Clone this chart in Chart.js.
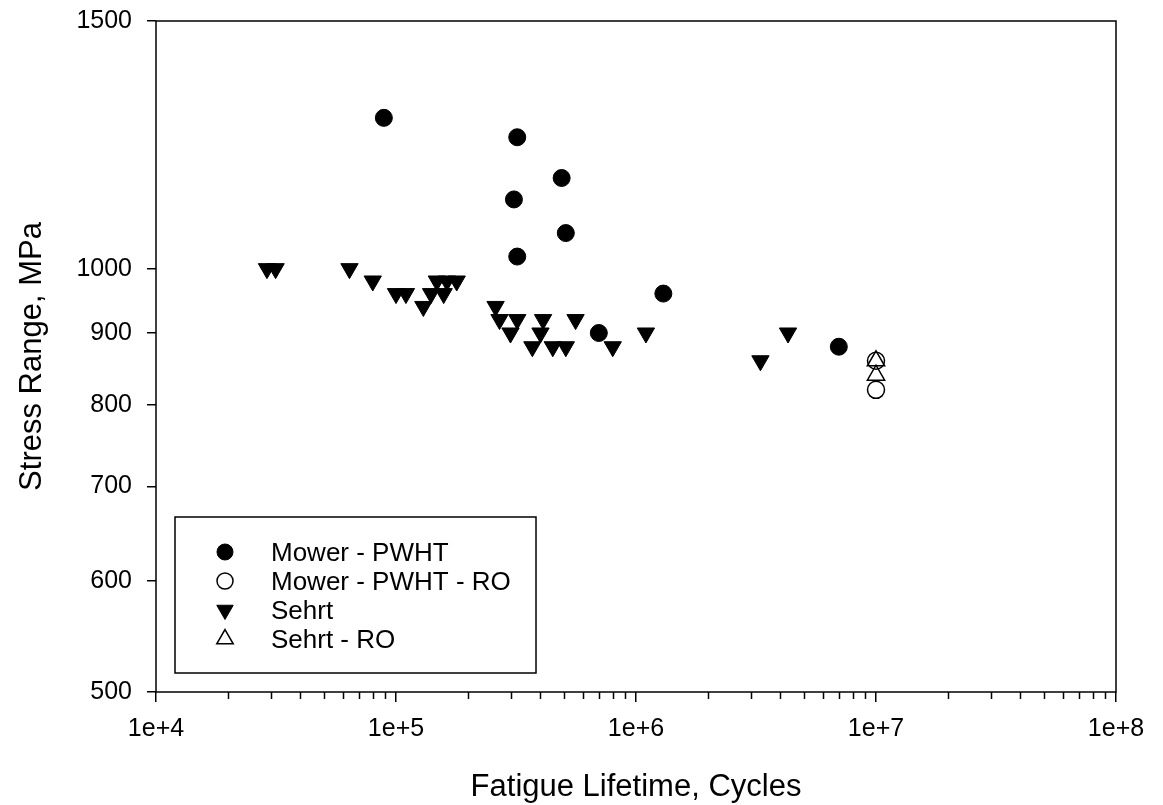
<!DOCTYPE html>
<html>
<head>
<meta charset="utf-8">
<script src="https://cdn.jsdelivr.net/npm/chart.js@4.4.0/dist/chart.umd.min.js"></script>
<style>
html, body { margin: 0; padding: 0; background: #fff; }
</style>
</head>
<body>
<canvas id="fatigue-plot" width="1163" height="805"></canvas>
<script>
// cycles / stress range (MPa)
var mowerX = [89000, 320000, 490000, 310000, 510000, 320000, 1300000, 700000, 7000000];
var mowerY = [1280, 1240, 1160, 1120, 1060, 1020, 960, 900, 880];

var mowerRoX = [10000000, 10000000];
var mowerRoY = [860, 820];

var sehrtX = [29000, 31500, 64000, 80000, 100000, 110000, 130000, 140000, 148000, 158000, 163000, 179000,
  260000, 270000, 300000, 320000, 370000, 400000, 410000, 450000, 510000, 560000, 800000, 1100000, 3300000, 4300000];
var sehrtY = [1000, 1000, 1000, 980, 960, 960, 940, 960, 980, 960, 980, 980,
  940, 920, 900, 920, 880, 900, 920, 880, 880, 920, 880, 900, 860, 900];

var sehrtRoX = [10000000, 10000000];
var sehrtRoY = [860, 840];

var xTicks = [1e4, 1e5, 1e6, 1e7, 1e8];
var xTickLabels = ['1e+4', '1e+5', '1e+6', '1e+7', '1e+8'];
var yTicks = [500, 600, 700, 800, 900, 1000, 1500];

var xMinorTicks = [];
for (var d = 1e4; d < 1e8; d *= 10) {
  for (var m = 2; m <= 9; m++) xMinorTicks.push(d * m);
}

var family = '"Liberation Sans", Arial, sans-serif';

function toPoints(xs, ys) {
  return xs.map(function(x, i) { return { x: x, y: ys[i] }; });
}

// box round the plot, minor x ticks and the boxed legend
var framePlugin = {
  id: 'frame',
  afterDraw: function(chart) {
    var ctx = chart.ctx, a = chart.chartArea, xs = chart.scales.x;
    ctx.save();
    ctx.strokeStyle = '#000';
    ctx.lineWidth = 1.5;
    ctx.strokeRect(a.left, a.top, a.right - a.left, a.bottom - a.top);

    ctx.beginPath();
    xMinorTicks.forEach(function(v) {
      var px = Math.round(xs.getPixelForValue(v)) + 0.5;
      ctx.moveTo(px, a.bottom);
      ctx.lineTo(px, a.bottom + 7);
    });
    ctx.stroke();

    var bx = a.left + 19, by = a.bottom - 175;
    ctx.strokeRect(bx, by, 361, 156);
    ctx.font = '26px ' + family;
    ctx.textBaseline = 'alphabetic';
    ctx.textAlign = 'left';
    chart.data.datasets.forEach(function(ds, i) {
      var cy = by + 35 + i * 29;
      ctx.fillStyle = ds.backgroundColor;
      ctx.strokeStyle = ds.borderColor;
      ctx.lineWidth = ds.borderWidth;
      Chart.helpers.drawPoint(ctx, {
        pointStyle: ds.pointStyle,
        radius: ds.pointRadius - 0.5,
        rotation: ds.rotation || 0,
        borderWidth: ds.borderWidth
      }, bx + 50, cy);
      ctx.fillStyle = '#000';
      ctx.fillText(ds.label, bx + 96, cy + 9);
    });
    ctx.restore();
  }
};

var ctx = document.getElementById('fatigue-plot').getContext('2d');
var curChart = new Chart(ctx, {
  type: 'scatter',
  plugins: [framePlugin],
  data: {
    datasets: [
      { label: 'Mower - PWHT', data: toPoints(mowerX, mowerY), pointStyle: 'circle',
        pointRadius: 8.5, borderWidth: 1, backgroundColor: '#000', borderColor: '#000' },
      { label: 'Mower - PWHT - RO', data: toPoints(mowerRoX, mowerRoY), pointStyle: 'circle',
        pointRadius: 8.5, borderWidth: 1.5, backgroundColor: 'rgba(0,0,0,0)', borderColor: '#000' },
      { label: 'Sehrt', data: toPoints(sehrtX, sehrtY), pointStyle: 'triangle', rotation: 180,
        pointRadius: 10, borderWidth: 1, backgroundColor: '#000', borderColor: '#000' },
      { label: 'Sehrt - RO', data: toPoints(sehrtRoX, sehrtRoY), pointStyle: 'triangle',
        pointRadius: 10, borderWidth: 1.5, backgroundColor: 'rgba(0,0,0,0)', borderColor: '#000' }
    ]
  },
  options: {
    responsive: false,
    animation: false,
    layout: { padding: { top: 21, right: 47, left: 0, bottom: 0 } },
    plugins: { legend: { display: false }, tooltip: { enabled: false } },
    elements: { point: { hoverRadius: 10 } },
    scales: {
      x: {
        type: 'logarithmic', min: 1e4, max: 1e8,
        afterBuildTicks: function(scale) { scale.ticks = xTicks.map(function(v) { return { value: v }; }); },
        afterFit: function(scale) { scale.height = 113; },
        border: { display: false },
        grid: { drawOnChartArea: false, color: '#000', lineWidth: 1.5, tickLength: 10 },
        ticks: {
          autoSkip: false, maxRotation: 0, padding: 12, color: '#000',
          font: { family: family, size: 25 },
          callback: function(v, i) { return xTickLabels[i]; }
        },
        title: {
          display: true, text: 'Fatigue Lifetime, Cycles', color: '#000',
          font: { family: family, size: 31, lineHeight: 1.1 }, padding: 0
        }
      },
      y: {
        type: 'logarithmic', min: 500, max: 1500,
        afterBuildTicks: function(scale) { scale.ticks = yTicks.map(function(v) { return { value: v }; }); },
        afterFit: function(scale) { scale.width = 156; scale.paddingTop = 0; scale.paddingBottom = 0; },
        border: { display: false },
        grid: { drawOnChartArea: false, color: '#000', lineWidth: 1.5, tickLength: 9 },
        ticks: {
          autoSkip: false, padding: 15, color: '#000',
          font: { family: family, size: 25 },
          callback: function(v, i) { return String(yTicks[i]); }
        },
        title: {
          display: true, text: 'Stress Range, MPa', color: '#000',
          font: { family: family, size: 31, lineHeight: 1.1 }, padding: { top: 15, bottom: 0 }
        }
      }
    }
  }
});
</script>
</body>
</html>
